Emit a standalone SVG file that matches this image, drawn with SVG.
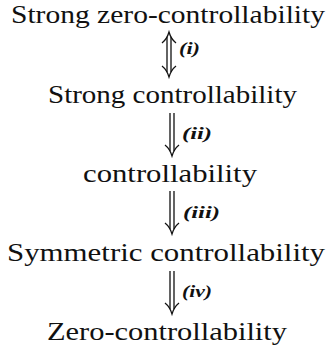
<svg xmlns="http://www.w3.org/2000/svg" width="333" height="354" viewBox="0 0 333 354">
<style>
.t{font-family:"Liberation Serif","DejaVu Serif",serif;font-size:25px;fill:#111}
.l{font-family:"Liberation Serif","DejaVu Serif",serif;font-size:16px;font-weight:bold;font-style:italic;fill:#111}
.a{fill:none;stroke:#111;stroke-width:1.3}
</style>
<rect width="333" height="354" fill="#fff"/>
<g id="n1"><text class="t" x="11" y="23" textLength="314" lengthAdjust="spacingAndGlyphs">Strong zero-controllability</text></g>
<g id="n2"><text class="t" x="48" y="103" textLength="249" lengthAdjust="spacingAndGlyphs">Strong controllability</text></g>
<g id="n3"><text class="t" x="83" y="182" textLength="174" lengthAdjust="spacingAndGlyphs">controllability</text></g>
<g id="n4"><text class="t" x="7" y="261" textLength="318" lengthAdjust="spacingAndGlyphs">Symmetric controllability</text></g>
<g id="n5"><text class="t" x="47" y="340" textLength="240" lengthAdjust="spacingAndGlyphs">Zero-controllability</text></g>
<g id="connectors">
<g id="e1">
<path class="a" d="M167,37 V72 M171,37 V72"/>
<path class="a" d="M162,43 Q167,39 169,32 Q171,39 176,43"/>
<path class="a" d="M162,66 Q167,70 169,77 Q171,70 176,66"/>
<text class="l" x="179" y="54" textLength="21" lengthAdjust="spacingAndGlyphs">(i)</text>
</g>
<g id="e2">
<path class="a" d="M170,113 V151 M174,113 V151"/>
<path class="a" d="M165,145 Q170,149 172,156 Q174,149 179,145"/>
<text class="l" x="182" y="139" textLength="30" lengthAdjust="spacingAndGlyphs">(ii)</text>
</g>
<g id="e3">
<path class="a" d="M170,191 V229 M174,191 V229"/>
<path class="a" d="M165,223 Q170,227 172,234 Q174,227 179,223"/>
<text class="l" x="183" y="218" textLength="37" lengthAdjust="spacingAndGlyphs">(iii)</text>
</g>
<g id="e4">
<path class="a" d="M170,271 V309 M174,271 V309"/>
<path class="a" d="M165,303 Q170,307 172,314 Q174,307 179,303"/>
<text class="l" x="182" y="297" textLength="30" lengthAdjust="spacingAndGlyphs">(iv)</text>
</g>
</g>
</svg>
